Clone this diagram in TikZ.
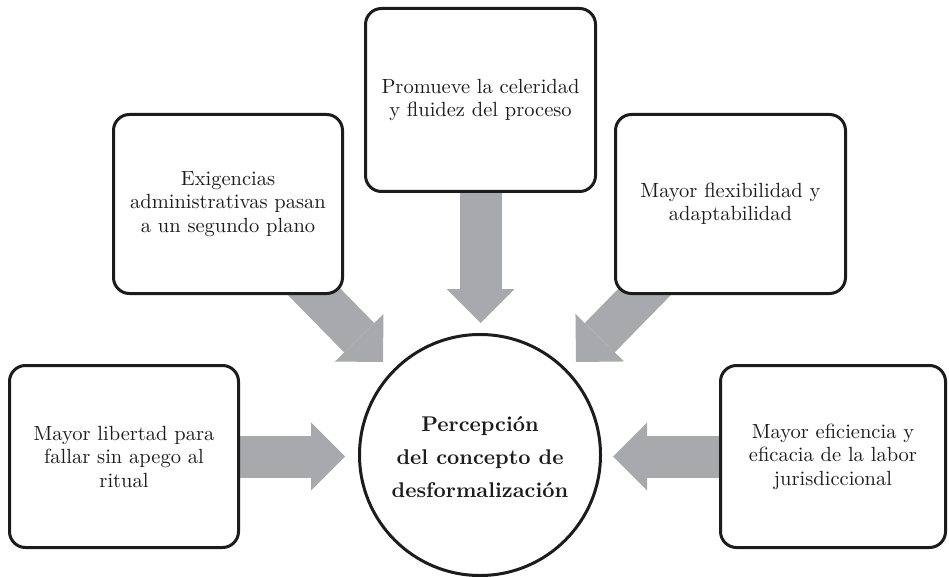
\documentclass[tikz,border=0pt]{standalone}
\usepackage{fontspec}
\setmainfont{lmroman10-regular.otf}[BoldFont=lmroman10-bold.otf]
\usetikzlibrary{arrows.meta,backgrounds}
\definecolor{arrowgray}{RGB}{167,169,172}
\definecolor{ink}{RGB}{28,28,28}
\begin{document}
\begin{tikzpicture}[x=1pt,y=-1pt,
  box/.style={draw=ink, line width=3pt, rounded corners=16pt, fill=white,
    align=center, inner sep=0pt, text=ink,
    font=\fontsize{20.5}{23.5}\selectfont},
  hub/.style={circle, draw=ink, line width=3pt, fill=white, minimum size=241pt,
    inner sep=0pt},
  hubtext/.style={align=center, inner sep=0pt, text=ink,
    font=\fontsize{21.3}{33}\selectfont\bfseries},
  bigarrow/.style={draw=arrowgray, line width=42pt,
    -{Triangle[width=68pt,length=34pt,line width=0pt]}}]
\useasboundingbox (0,0) rectangle (949,577);

\node[box, minimum width=229pt, minimum height=182pt] (L) at (124,456.5)
  {Mayor libertad para\\fallar sin apego al\\ritual};
\node[box, minimum width=229pt, minimum height=179pt] (UL) at (228,204)
  {Exigencias\\administrativas pasan\\a un segundo plano};
\node[box, minimum width=230pt, minimum height=183pt] (T) at (480.5,100)
  {Promueve la celeridad\\y fluidez del proceso};
\node[box, minimum width=230pt, minimum height=179pt] (UR) at (730.5,204)
  {Mayor flexibilidad y\\adaptabilidad};
\node[box, minimum width=225pt, minimum height=182pt] (R) at (833,456.5)
  {Mayor eficiencia y\\eficacia de la labor\\jurisdiccional};
\node[hub] (C) at (480,455) {};
\node[hubtext] (Ct) at (480,457)
  {Percepción\\del concepto de\\desformalización};

\coordinate (tL) at (345,456.5);
\coordinate (tR) at (613,456.5);
\coordinate (tT) at (480.5,323);
\coordinate (tUL) at (383,362);
\coordinate (tUR) at (576,362);

\begin{scope}[on background layer]
  \fill[white] (0,0) rectangle (949,577);
  \draw[bigarrow] (L.center) -- (tL);
  \draw[bigarrow] (R.center) -- (tR);
  \draw[bigarrow] (T.center) -- (tT);
  \draw[bigarrow] (UL.center) -- (tUL);
  \draw[bigarrow] (UR.center) -- (tUR);
\end{scope}
\end{tikzpicture}
\end{document}
